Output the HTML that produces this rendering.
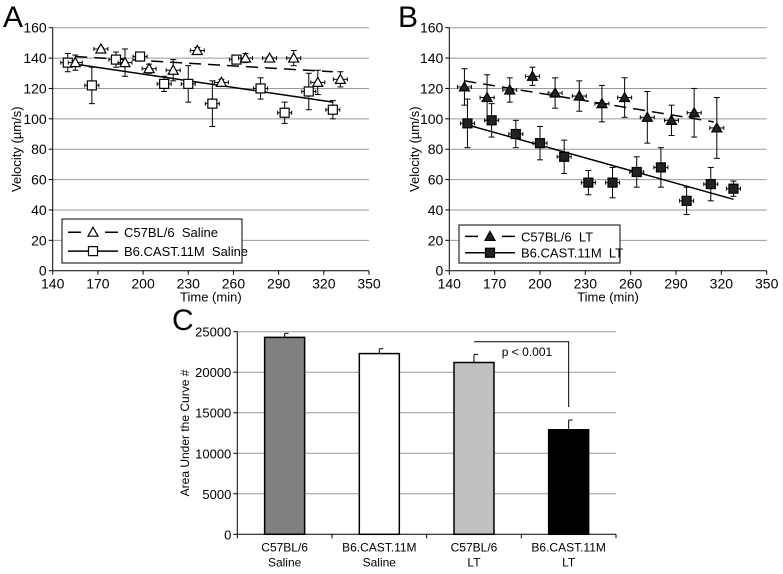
<!DOCTYPE html>
<html><head><meta charset="utf-8"><style>
body{margin:0;background:#fff;width:783px;height:569px;overflow:hidden;font-family:"Liberation Sans",Arial,sans-serif}
svg text{font-family:"Liberation Sans",Arial,sans-serif;white-space:pre}
</style></head><body>
<svg id="s" width="783" height="569" viewBox="0 0 783 569" xmlns="http://www.w3.org/2000/svg">
<text x="3" y="27" font-size="30">A</text>
<text x="398" y="27" font-size="30">B</text>
<text x="172" y="330" font-size="30">C</text>
</svg>
<script>
const svgNS="http://www.w3.org/2000/svg";
const S=document.getElementById('s');
function mk(tag,attrs,parent,name){const e=document.createElementNS(svgNS,tag);for(const k in attrs)e.setAttribute(k,attrs[k]);(parent||S).appendChild(e);


return e;}

// Panel A data
const aTriX=[155,172,188,204,220,236,252,268,284,300,316,331];
const aTriY=[137,146,137,133,132,145,124,140,140,140,124,126];
const aTriE=[5,1,9,3,7,2,2,3,1,5,8,5];
const aSqX=[150,166,182,198,214,230,246,262,278,294,310,326];
const aSqY=[137,122,139,141,123,123,110,139,120,104,118,106];
const aSqE=[6,12,5,3,5,12,15,2,7,7,12,6];
const aTrendDash=[[155,141],[326,131]];
const aTrendSolid=[[155,136],[326,111]];
// Panel B data
const bTriX=[150,165,180,195,210,226,241,256,271,287,302,317];
const bTriY=[121,114,119,128,117,115,110,114,101,99,104,94];
const bTriE=[12,15,8,6,10,10,12,13,17,10,16,20];
const bSqX=[152,168,184,200,216,232,248,264,280,297,313,328];
const bSqY=[97,99,90,84,75,58,58,65,68,46,57,54];
const bSqE=[16,11,9,11,11,8,10,10,13,9,11,5];
const bTrendDash=[[150,125],[315,98]];
const bTrendSolid=[[152,96],[328,47]];
const xTicks=[140,170,200,230,260,290,320,350];
const yTicks=[0,20,40,60,80,100,120,140,160];
// Panel C data
const cCats=[["C57BL/6","Saline"],["B6.CAST.11M","Saline"],["C57BL/6","LT"],["B6.CAST.11M","LT"]];
const cVals=[24300,22300,21200,12900];
const cErrs=[500,600,1000,1200];
const cTicks=[0,5000,10000,15000,20000,25000];

function linePanel(o){
  const X=v=>o.x0+(v-140)/210*(o.x1-o.x0);
  const Y=v=>o.y0-(v/160)*(o.y0-o.y1);
  const g=mk('g',{},S,o.name);
  yTicks.forEach(t=>{
    if(t>0)mk('line',{x1:X(140),x2:X(350),y1:Y(t),y2:Y(t),stroke:'#999','stroke-width':1},g,'gridline');
    mk('line',{x1:X(140)-4,x2:X(140),y1:Y(t),y2:Y(t),stroke:'#000'},g,'y-tick');
    const tx=mk('text',{x:X(140)-6,y:Y(t)+5,'font-size':14,'text-anchor':'end'},g,'y-tick-label');tx.textContent=t;
  });
  xTicks.forEach(t=>{
    mk('line',{x1:X(t),x2:X(t),y1:Y(0),y2:Y(0)+4,stroke:'#000'},g,'x-tick');
    const tx=mk('text',{x:X(t),y:Y(0)+18,'font-size':14,'text-anchor':'middle'},g,'x-tick-label');tx.textContent=t;
  });
  mk('line',{x1:X(140),x2:X(140),y1:Y(0),y2:Y(160),stroke:'#000'},g,'y-axis');
  mk('line',{x1:X(140),x2:X(350),y1:Y(0),y2:Y(0),stroke:'#000'},g,'x-axis');
  const yt=mk('text',{x:0,y:0,'font-size':13,'text-anchor':'middle',transform:`translate(${o.yTitleX},${Y(80)}) rotate(-90)`},g,'y-axis-title');yt.textContent='Velocity (µm/s)';
  const xt=mk('text',{x:X(245),y:Y(0)+31,'font-size':13,'text-anchor':'middle'},g,'x-axis-title');xt.textContent='Time (min)';
  mk('line',{x1:X(o.dash[0][0]),y1:Y(o.dash[0][1]),x2:X(o.dash[1][0]),y2:Y(o.dash[1][1]),stroke:'#000','stroke-width':1.5,'stroke-dasharray':'12,7'},g,'trend-line-c57');
  mk('line',{x1:X(o.solid[0][0]),y1:Y(o.solid[0][1]),x2:X(o.solid[1][0]),y2:Y(o.solid[1][1]),stroke:'#000','stroke-width':1.5},g,'trend-line-b6');
  function series(xs,ys,es,shape,name){
    xs.forEach((xv,i)=>{
      const px=X(xv),py=Y(ys[i]),e=Y(ys[i]-es[i])-py;
      mk('line',{x1:px,x2:px,y1:py-e,y2:py+e,stroke:'#000'},g,'error-bar');
      mk('line',{x1:px-3,x2:px+3,y1:py-e,y2:py-e,stroke:'#000'},g,'error-cap');
      mk('line',{x1:px-3,x2:px+3,y1:py+e,y2:py+e,stroke:'#000'},g,'error-cap');
      mk('line',{x1:px-7,x2:px+7,y1:py,y2:py,stroke:'#000'},g,'x-error-bar');
      mk('line',{x1:px-7,x2:px-7,y1:py-2,y2:py+2,stroke:'#000'},g,'x-error-cap');
      mk('line',{x1:px+7,x2:px+7,y1:py-2,y2:py+2,stroke:'#000'},g,'x-error-cap');
      drawMarker(px,py,shape,o.fill,name);
    });
  }
  function drawMarker(px,py,shape,fill,name){
    if(shape==='sq')mk('rect',{x:px-4.5,y:py-4.5,width:9,height:9,fill:fill,stroke:'#000','stroke-width':1.2},g,name);
    else mk('polygon',{points:`${px},${py-5} ${px-5},${py+4} ${px+5},${py+4}`,fill:fill,stroke:'#000','stroke-width':1.2},g,name);
  }
  series(o.sqX,o.sqY,o.sqE,'sq',o.sqName);
  series(o.triX,o.triY,o.triE,'tri',o.triName);
  const L=o.leg;
  mk('rect',{x:L[0],y:L[1],width:L[2],height:L[3],fill:'#fff',stroke:'#000'},g,'legend');
  const r1=L[1]+L[3]*0.3,r2=L[1]+L[3]*0.73;
  mk('line',{x1:L[0]+6,x2:L[0]+56,y1:r1,y2:r1,stroke:'#000','stroke-width':1.5,'stroke-dasharray':'13,24'},g,'legend-line-c57');
  drawMarker(L[0]+31,r1,'tri',o.fill,'legend-marker-c57');
  mk('line',{x1:L[0]+6,x2:L[0]+56,y1:r2,y2:r2,stroke:'#000','stroke-width':1.5},g,'legend-line-b6');
  drawMarker(L[0]+31,r2,'sq',o.fill,'legend-marker-b6');
  const t1=mk('text',{x:L[0]+62,y:r1+5,'font-size':13},g,'legend-entry-c57');t1.textContent=o.labels[0];
  const t2=mk('text',{x:L[0]+62,y:r2+5,'font-size':13},g,'legend-entry-b6');t2.textContent=o.labels[1];
}
linePanel({name:'panel-a',x0:52.7,x1:369,y0:270.7,y1:27.7,yTitleX:21,fill:'#fff',triX:aTriX,triY:aTriY,triE:aTriE,sqX:aSqX,sqY:aSqY,sqE:aSqE,dash:aTrendDash,solid:aTrendSolid,leg:[62,219,180,44],labels:['C57BL/6  Saline','B6.CAST.11M  Saline'],triName:'point-c57-saline',sqName:'point-b6-saline'});
linePanel({name:'panel-b',x0:449.3,x1:766.7,y0:270.7,y1:27.7,yTitleX:419,fill:'#222',triX:bTriX,triY:bTriY,triE:bTriE,sqX:bSqX,sqY:bSqY,sqE:bSqE,dash:bTrendDash,solid:bTrendSolid,leg:[459,225,161,38],labels:['C57BL/6  LT','B6.CAST.11M  LT'],triName:'point-c57-lt',sqName:'point-b6-lt'});

// Panel C
(function(){
  const x0=237.3,x1=616,y0=534.3,y1=331.7;
  const Y=v=>y0-v/25000*(y0-y1);
  const cw=(x1-x0)/cCats.length;
  const fills=['#808080','#fff','#c0c0c0','#000'];
  const g=mk('g',{},S,'panel-c');
  cTicks.forEach(t=>{
    if(t>0)mk('line',{x1:x0,x2:x1,y1:Y(t),y2:Y(t),stroke:'#999'},g,'gridline');
    mk('line',{x1:x0-4,x2:x0,y1:Y(t),y2:Y(t),stroke:'#000'},g,'y-tick');
    const tx=mk('text',{x:x0-6,y:Y(t)+5,'font-size':13,'text-anchor':'end'},g,'y-tick-label');tx.textContent=t;
  });
  mk('line',{x1:x0,x2:x0,y1:y0,y2:y1,stroke:'#000'},g,'y-axis');
  mk('line',{x1:x0,x2:x1,y1:y0,y2:y0,stroke:'#000'},g,'x-axis');
  for(let i=0;i<=cCats.length;i++)mk('line',{x1:x0+i*cw,x2:x0+i*cw,y1:y0,y2:y0+4,stroke:'#000'},g,'x-tick');
  const yt=mk('text',{x:0,y:0,'font-size':12,'text-anchor':'middle',transform:`translate(${189},${Y(12500)}) rotate(-90)`},g,'y-axis-title');yt.textContent='Area Under the Curve #';
  cCats.forEach((c,i)=>{
    const cx=x0+(i+0.5)*cw,bw=40;
    mk('rect',{x:cx-bw/2,y:Y(cVals[i]),width:bw,height:y0-Y(cVals[i]),fill:fills[i],stroke:'#000','stroke-width':1.5},g,'bar-'+i);
    const ey=Y(cVals[i]+cErrs[i]);
    mk('line',{x1:cx,x2:cx,y1:Y(cVals[i]),y2:ey,stroke:'#000'},g,'error-bar');
    mk('line',{x1:cx,x2:cx+4,y1:ey,y2:ey,stroke:'#000'},g,'error-cap');
    const l1=mk('text',{x:cx,y:y0+17,'font-size':12,'text-anchor':'middle'},g,'x-tick-label');l1.textContent=c[0];
    const l2=mk('text',{x:cx,y:y0+32,'font-size':12,'text-anchor':'middle'},g,'x-tick-label');l2.textContent=c[1];
  });
  const bx1=x0+2.5*cw,bx2=x0+3.5*cw;
  mk('polyline',{points:`${bx1},341.7 ${bx2},341.7 ${bx2},407`,fill:'none',stroke:'#000'},g,'significance-bracket');
  const p=mk('text',{x:527,y:356,'font-size':12,'text-anchor':'middle'},g,'p-value-label');p.textContent='p < 0.001';
})();
</script>
</body></html>
